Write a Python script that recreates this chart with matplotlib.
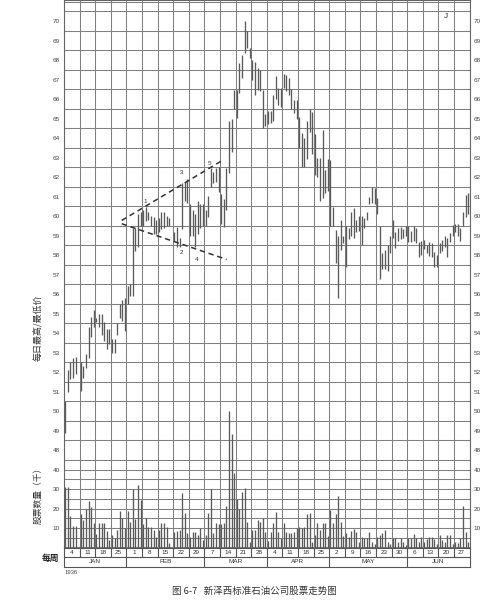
import numpy as np
import matplotlib
matplotlib.use("Agg")
import matplotlib.pyplot as plt

plt.rcParams['font.family'] = ['Liberation Sans', 'Noto Sans CJK SC', 'DejaVu Sans']
nan = np.nan

# ---- data (6 trading days per week, weeks ending Saturday) ----
week_labels = ['4', '11', '18', '25', '1', '8', '15', '22', '29', '7', '14', '21', '28',
               '4', '11', '18', '25', '2', '9', '16', '23', '30', '6', '13', '20', '27']
months = ['JAN', 'FEB', 'MAR', 'APR', 'MAY', 'JUN']
month_weeks = [4, 5, 4, 4, 5, 4]

high = [
    50.5, 52.1, 52.5, 52.7, 52.75, nan,
    52.5, 52.3, 52.95, 54.3, 54.85, 55.2,
    54.75, 55.0, 55.0, 54.55, 54.2, 54.2,
    53.7, 53.7, 54.5, 55.5, 55.7, 55.8,
    56.4, 56.5, 59.4, 59.4, 60.1, 60.2,
    60.3, 60.45, 60.2, 60.0, 59.95, 59.8,
    59.9, 60.2, 60.2, 60.0, 59.9, nan,
    59.2, 59.45, 58.9, 61.7, 61.75, 61.9,
    60.6, 60.3, 60.1, 60.8, 60.6, 60.6,
    60.3, 61.05, 62.45, 62.25, 62.45, 62.5,
    61.15, 60.9, 62.45, 64.9, 65.0, 66.45,
    66.45, 67.85, 68.25, 70.0, 69.5, 68.65,
    68.0, 67.9, 67.6, 67.5, 66.45, 65.25,
    65.4, 65.4, 66.2, 67.2, 66.55, 66.55,
    67.3, 67.25, 67.1, 66.5, 65.95, 65.95,
    65.1, 64.25, 64.0, 64.9, 65.5, 65.35,
    64.2, 63.0, 63.0, 64.4, 62.35, 62.95,
    62.9, 60.45, 59.3, 59.0, 59.8, 59.0,
    59.5, 59.4, 60.2, 60.4, 59.8, 60.0,
    60.0, 59.9, 60.2, 61.0, 61.5, 61.45,
    60.95, 59.5, 58.1, 58.25, 58.5, 59.0,
    59.8, 59.2, 59.4, 59.45, 59.35, 59.5,
    59.5, 59.25, 59.5, 59.4, 58.65, 58.75,
    58.8, 58.5, 58.65, 58.6, 58.15, 58.0,
    58.6, 58.8, 59.0, 58.9, 59.15, 59.55,
    59.6, 59.6, 59.4, 60.2, 61.1, 61.2,
]
low = [
    48.9, 51.0, 51.65, 51.7, 51.9, nan,
    51.05, 51.7, 52.2, 52.7, 53.8, 54.3,
    54.55, 54.3, 53.9, 53.6, 53.2, 53.45,
    53.0, 53.0, 53.9, 54.8, 54.6, 54.1,
    55.5, 55.9, 55.9, 58.2, 58.4, 59.5,
    59.5, 59.75, 59.8, 59.5, 59.1, 59.1,
    59.2, 59.35, 59.4, 59.5, 59.5, nan,
    58.7, 58.4, 58.4, 59.35, 60.8, 60.7,
    59.0, 59.0, 58.4, 59.1, 59.4, 59.5,
    59.5, 59.95, 61.5, 61.7, 61.75, 61.25,
    59.6, 59.45, 60.3, 62.2, 63.3, 65.5,
    65.05, 66.3, 67.1, 68.35, 68.65, 68.1,
    67.0, 66.2, 66.45, 66.4, 64.5, 64.65,
    64.75, 64.8, 64.9, 66.0, 65.7, 65.6,
    66.6, 66.4, 66.2, 65.5, 65.3, 65.0,
    63.5, 62.5, 62.5, 62.95, 64.3, 63.2,
    62.1, 62.0, 60.8, 60.95, 61.2, 61.3,
    59.5, 59.5, 57.6, 55.8, 58.25, 58.6,
    57.4, 58.85, 59.0, 58.9, 59.2, 59.25,
    58.5, 59.4, 59.8, 60.6, 60.65, 60.6,
    60.1, 56.8, 57.3, 57.3, 57.2, 58.1,
    58.9, 58.35, 58.75, 58.85, 58.9, 59.0,
    58.65, 58.65, 58.7, 58.6, 57.9, 58.0,
    58.3, 58.1, 57.95, 57.9, 57.4, 57.4,
    58.1, 58.2, 58.4, 57.9, 58.65, 59.0,
    59.2, 59.0, 58.75, 59.5, 59.95, 60.1,
]
volume = [
    31, 31, 16, 11, 11, nan,
    17.2, 14.1, 20, 23.8, 20.9, 12.7,
    6.8, 12.7, 12.7, 12.7, 8.6, 4,
    6.5, 4.7, 9, 18.8, 15, 9.9,
    18.8, 13, 30, 14.5, 32, 24.4,
    11.9, 15, 10.7, 10.7, 9, 5.6,
    9, 12.7, 12.4, 10.7, 2.4, nan,
    7.8, 8.6, 9, 28, 17.5, 7.2,
    5.6, 7.8, 7.8, 6.5, 9.9, 4,
    6.5, 17.5, 30, 7.6, 12.4, 12,
    12.0, 12.4, 21.4, 70, 58, 38,
    25, 20, 28.6, 30.3, 13.2, 3,
    9, 9, 14, 13.2, 14.9, 8.1,
    3.5, 8.1, 12.4, 18, 8.1, 5,
    12.4, 8.1, 7.3, 7.3, 7.8, 9.9,
    10.7, 9.9, 10.7, 17.2, 17.9, 2.7,
    6.5, 12.4, 9, 12.4, 12.4, 6,
    19.2, 12.4, 17, 26.4, 13, 6,
    7.4, 5.6, 8.6, 9.4, 8.2, 3,
    5.5, 5, 5, 8.2, 3, 2,
    5.5, 6.4, 7.4, 9, 3, 2,
    5, 4.7, 3, 4.7, 3, 1.5,
    5, 4.7, 6.8, 4.7, 3, 5.5,
    3, 4.2, 5.5, 5.5, 4.2, 2,
    6.4, 3.8, 3, 6.4, 6.4, 2,
    2.9, 2.4, 5, 21.4, 8.1, 2.9,
]

# broadening-formation annotation (week position, price)
upper_line_x = [3.70, 10.26]
upper_line_y = [59.78, 62.91]
lower_line_x = [3.70, 10.43]
lower_line_y = [59.61, 57.78]
point_labels = ['1', '2', '3', '4', '5']
point_x = [5.24, 7.50, 7.56, 8.50, 9.36]
point_y = [60.77, 58.15, 62.23, 57.78, 62.72]

# ---- figure ----
W, H = 494, 600
fig = plt.figure(figsize=(W / 100, H / 100), dpi=100)
fig.patch.set_facecolor('white')
left_px, right_px, bottom_px = 64, 469.5, 547.5
L = left_px / W
Wd = (right_px - left_px) / W
ax = fig.add_axes([L, 1 - bottom_px / H, Wd, bottom_px / H])
ymin, ymax = 43, 71.09
ax.set_xlim(0, 26)
ax.set_ylim(ymin, ymax)

ax2 = ax.twinx()
ax2.set_ylim(0, (ymax - ymin) * 10)

grid_c = '#808080'
ax.set_xticks([])
ax.set_xticks(np.arange(0, 27), minor=True)
ax.set_yticks(np.arange(43, 71.01, 0.5), minor=True)
ax.grid(which='minor', color=grid_c, lw=0.75)
ax.set_yticks(np.arange(48, 71))
ax.set_yticklabels([str(v) for v in range(48, 71)])
ax.yaxis.set_ticks_position('both')
ax.tick_params(axis='y', which='both', length=0, labelsize=4.6, labelleft=True,
               labelright=True, pad=3, labelcolor='#444')
for s in ax.spines.values():
    s.set_color('#666')
    s.set_linewidth(0.8)

ax2.set_yticks([10, 20, 30, 40])
ax2.yaxis.set_ticks_position('both')
ax2.tick_params(axis='y', length=0, labelsize=4.6, labelleft=True, labelright=True,
                pad=3, labelcolor='#444')
for s in ax2.spines.values():
    s.set_visible(False)

idx = np.arange(len(high))
xpos = idx // 6 + (idx % 6 + 0.5) / 6
bar_c = '#5a5a5a'
ax.vlines(xpos, low, high, colors=bar_c, lw=0.95, zorder=3)
ax2.vlines(xpos, 0, volume, colors=bar_c, lw=0.95, zorder=3)

dash = (0, (3.5, 2.5))
ax.plot(upper_line_x, upper_line_y, ls=dash, color='#333', lw=1.1, zorder=4)
ax.plot(lower_line_x, lower_line_y, ls=dash, color='#333', lw=1.1, zorder=4)
for t, px_, py_ in zip(point_labels, point_x, point_y):
    ax.text(px_, py_, t, fontsize=4.6, color='#333', ha='center', va='center', zorder=5)

# ---- date rows ----
row_top, row_bot = 547.5, 566.7
axb = fig.add_axes([L, 1 - row_bot / H, Wd, (row_bot - row_top) / H])
axb.set_xlim(0, 26)
axb.set_ylim(0, 2)
axb.set_xticks([])
axb.set_yticks([])
for s in axb.spines.values():
    s.set_color('#555')
    s.set_linewidth(0.8)
axb.axhline(1, color='#555', lw=0.8)
axb.vlines(np.arange(1, 26), 1, 2, colors='#555', lw=0.8)
for i, lab in enumerate(week_labels):
    axb.text(i + 0.5, 1.5, lab, fontsize=4.6, ha='center', va='center', color='#333')
edges = np.concatenate([[0], np.cumsum(month_weeks)])
axb.vlines(edges[1:-1], 0, 1, colors='#555', lw=0.8)
for m, a, b in zip(months, edges[:-1], edges[1:]):
    axb.text((a + b) / 2, 0.5, m, fontsize=4.6, ha='center', va='center', color='#333')

def ftext(px, py, s, **kw):
    fig.text(px / W, 1 - py / H, s, **kw)

cjk = ['Noto Sans CJK SC', 'DejaVu Sans']
ftext(71, 572, '1936', fontsize=4.2, ha='center', va='center', color='#444')
ftext(38, 328, '每日最高/最低价', fontsize=6.5, rotation=90, ha='center', va='center',
      color='#333', family=cjk)
ftext(38, 493, '股票数量（千）', fontsize=6.3, rotation=90, ha='center', va='center',
      color='#333', family=cjk)
ftext(50, 558, '每周', fontsize=6.3, ha='center', va='center', color='#222',
      family=cjk, fontweight='bold')
ftext(254, 591, '图 6-7   新泽西标准石油公司股票走势图', fontsize=6.8, ha='center',
      va='center', color='#333', family=cjk)
ftext(446, 17, 'J', fontsize=6, ha='center', va='center', color='#333')

fig.savefig('out.png', dpi=100, facecolor='white')
